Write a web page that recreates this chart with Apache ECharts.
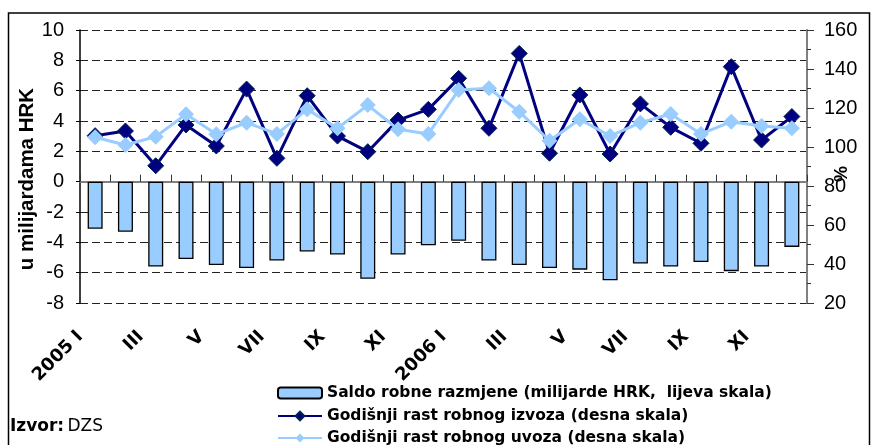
<!DOCTYPE html>
<html>
<head>
<meta charset="utf-8">
<script src="https://cdn.jsdelivr.net/npm/echarts@6/dist/echarts.min.js"></script>
<style>html,body{margin:0;padding:0;background:#fff}#c{width:875px;height:445px}</style>
</head>
<body>
<div id="c"></div>
<script>
var categories = ["2005 I","2005 II","2005 III","2005 IV","2005 V","2005 VI","2005 VII","2005 VIII","2005 IX","2005 X","2005 XI","2005 XII",
  "2006 I","2006 II","2006 III","2006 IV","2006 V","2006 VI","2006 VII","2006 VIII","2006 IX","2006 X","2006 XI","2006 XII"];
var tickLabels = ["2005 I","II","III","IV","V","VI","VII","VIII","IX","X","XI","XII",
  "2006 I","II","III","IV","V","VI","VII","VIII","IX","X","XI","XII"];
var saldo = [-3.1,-3.3,-5.6,-5.1,-5.5,-5.7,-5.2,-4.6,-4.8,-6.4,-4.8,-4.2,
  -3.9,-5.2,-5.5,-5.7,-5.8,-6.5,-5.4,-5.6,-5.3,-5.9,-5.6,-4.3];
var izvoz = [105.8,108.2,90.4,111.3,100.5,129.7,94.2,126.3,105.6,97.6,113.8,119.3,
  135.2,109.6,148.0,96.8,126.7,96.4,122.1,110.1,101.9,141.2,103.6,115.6];
var uvoz = [105.0,101.0,105.3,116.8,106.5,112.5,106.7,119.3,109.6,121.5,109.1,106.7,
  129.2,130.1,118.1,103.2,114.2,105.6,112.5,116.9,106.7,113.0,110.8,109.6];
var seriesNames = [
  'Saldo robne razmjene (milijarde HRK,  lijeva skala)',
  'Godišnji rast robnog izvoza (desna skala)',
  'Godišnji rast robnog uvoza (desna skala)'
];
var leftTicks = {min: -8, max: 10, interval: 2};
var rightTicks = {min: 20, max: 160, interval: 20};

var FONT = "'Liberation Sans', Arial, sans-serif";
var WIDE = "'DejaVu Sans', sans-serif";
var legendTops = [379, 402, 424];
var chart = echarts.init(document.getElementById('c'), null, {renderer: 'canvas'});
chart.setOption({
  animation: false,
  backgroundColor: '#fff',
  textStyle: {fontFamily: FONT},
  grid: {left: 80, right: 68, top: 30, height: 273},
  xAxis: [{
    type: 'category', data: categories, position: 'bottom',
    axisLine: {show: false, onZero: false},
    axisTick: {show: false},
    axisLabel: {
      interval: 1, rotate: 45, margin: 16,
      fontFamily: WIDE, fontSize: 18, fontWeight: 'bold', color: '#000',
      padding: [0, 21, 16, 0],
      formatter: function (v, i) { return tickLabels[i]; }
    },
    splitLine: {show: false}
  }, {
    type: 'category', data: categories, position: 'bottom',
    axisLine: {show: true, onZero: true, onZeroAxisIndex: 0, lineStyle: {color: '#808080', width: 2}},
    axisTick: {show: true, inside: true, length: 7, interval: 0, lineStyle: {color: '#333', width: 1}},
    axisLabel: {show: false},
    splitLine: {show: false}
  }],
  yAxis: [{
    type: 'value', min: leftTicks.min, max: leftTicks.max, interval: leftTicks.interval,
    position: 'left',
    axisLine: {show: true, lineStyle: {color: '#000', width: 1.5}},
    axisTick: {show: true, length: 4, lineStyle: {color: '#000'}},
    axisLabel: {margin: 16, fontFamily: FONT, fontSize: 20, color: '#000'},
    splitLine: {show: true, lineStyle: {color: '#222', type: [8, 4], width: 1}}
  }, {
    type: 'value', min: rightTicks.min, max: rightTicks.max, interval: rightTicks.interval,
    position: 'right',
    axisLine: {show: true, lineStyle: {color: '#808080', width: 2}},
    axisTick: {show: true, length: 7, lineStyle: {color: '#333'}},
    minorTick: {show: true, splitNumber: 2, length: 4, lineStyle: {color: '#333'}},
    axisLabel: {margin: 17, fontFamily: FONT, fontSize: 20, color: '#000'},
    splitLine: {show: false}
  }],
  legend: seriesNames.map(function (n, i) {
    return {
      orient: 'vertical', left: 272, top: legendTops[i],
      itemWidth: 44, itemHeight: 11, itemGap: 0,
      textStyle: {fontFamily: WIDE, fontSize: 15.5, fontWeight: 'bold', color: '#000', lineHeight: 18},
      data: [n]
    };
  }),
  series: [{
    name: seriesNames[0],
    type: 'bar', xAxisIndex: 0, yAxisIndex: 0, data: saldo, barWidth: 15,
    itemStyle: {color: '#99CCFF', borderColor: '#000', borderWidth: 1.3}
  }, {
    name: seriesNames[1],
    type: 'line', xAxisIndex: 0, yAxisIndex: 1, data: izvoz,
    symbol: 'diamond', symbolSize: 16,
    lineStyle: {color: '#000080', width: 3},
    itemStyle: {color: '#000080', borderColor: '#00264d', borderWidth: 1}
  }, {
    name: seriesNames[2],
    type: 'line', xAxisIndex: 0, yAxisIndex: 1, data: uvoz,
    symbol: 'diamond', symbolSize: 16,
    lineStyle: {color: '#99CCFF', width: 3},
    itemStyle: {color: '#99CCFF', borderColor: '#99CCFF', borderWidth: 0}
  }],
  graphic: [{
    type: 'rect', shape: {x: 8.5, y: 13, width: 861, height: 445},
    style: {fill: 'none', stroke: '#000', lineWidth: 1.5}, silent: true
  }, {
    type: 'text', x: 27, y: 179, rotation: Math.PI / 2,
    style: {text: 'u milijardama HRK', fontFamily: FONT, fontSize: 20.5, fontWeight: 'bold', fill: '#000',
      align: 'center', verticalAlign: 'middle'}
  }, {
    type: 'text', x: 842, y: 174, rotation: Math.PI / 2,
    style: {text: '%', fontFamily: FONT, fontSize: 18, fontWeight: 'bold', fill: '#000',
      align: 'center', verticalAlign: 'middle'}
  }, {
    type: 'text', x: 10, y: 427,
    style: {
      text: '{b|Izvor:} {r|DZS}', verticalAlign: 'middle',
      rich: {
        b: {fontFamily: WIDE, fontSize: 17, fontWeight: 'bold', fill: '#000'},
        r: {fontFamily: WIDE, fontSize: 17, fill: '#000'}
      }
    }
  }]
});
</script>
</body>
</html>
